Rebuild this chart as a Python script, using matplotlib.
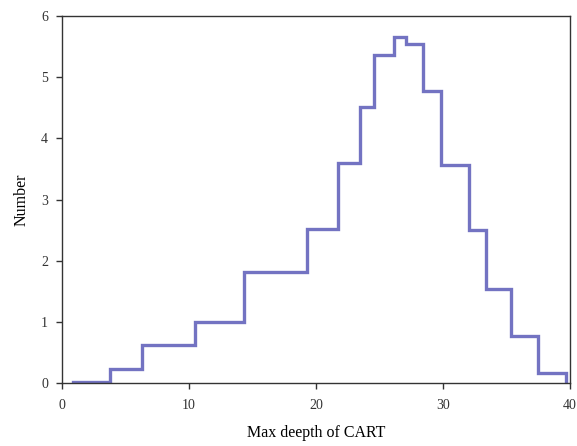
import matplotlib.pyplot as plt
import numpy as np

# krawedzie przedzialow i wysokosci schodkow
krawedzie = [0.9, 3.75, 6.32, 10.43, 14.36, 19.26, 21.75, 23.43, 24.58, 26.10,
             27.08, 28.44, 29.80, 32.03, 33.41, 35.38, 37.48, 39.70]
wartosci = [0.02, 0.24, 0.63, 1.0, 1.81, 2.52, 3.60, 4.52, 5.37, 5.66,
            5.55, 4.77, 3.57, 2.50, 1.545, 0.77, 0.17]
xticki = [0, 10, 20, 30, 40]
yticki = [0, 1, 2, 3, 4, 5, 6]

plt.rcParams['font.family'] = ['Liberation Serif', 'DejaVu Serif']

fig = plt.figure(figsize=(5.77, 4.46), dpi=100)
ax = fig.add_axes([0.1075, 0.1406, 0.8805, 0.8235])

# schodki + spadek do zera na koncu
ax.step(krawedzie, np.append(wartosci, 0), where='post',
        color='#7373C2', linewidth=2.4, solid_joinstyle='miter')

ax.set_xlim(0, 40)
ax.set_ylim(0, 6)
ax.set_xticks(xticki)
ax.set_yticks(yticki)
ax.tick_params(direction='out', length=4, width=1, labelsize=10, colors='#333333')
ax.tick_params(axis='x', pad=7)
ax.tick_params(axis='y', pad=6)
for s in ax.spines.values():
    s.set_color('#333333')
    s.set_linewidth(1)

ax.set_xlabel('Max deepth of CART', fontsize=11.5, labelpad=10)
ax.set_ylabel('Number', fontsize=11.5, labelpad=8)

fig.savefig('out.png', dpi=100)
